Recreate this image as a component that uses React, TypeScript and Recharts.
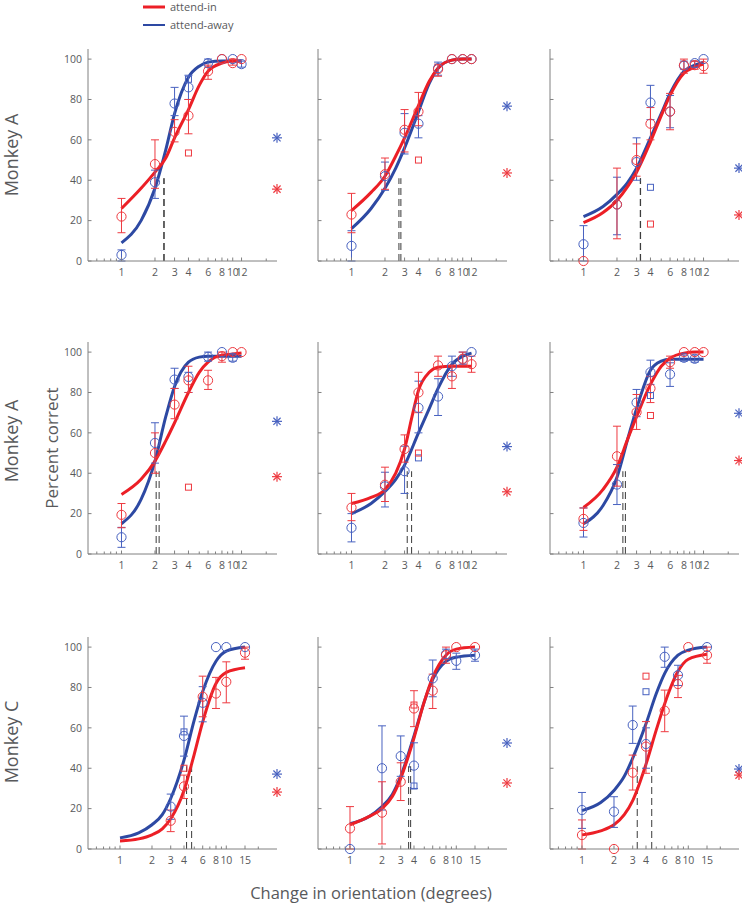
import React from 'react';
import { ComposedChart, XAxis, YAxis, Line, Scatter, ErrorBar, ReferenceLine } from 'recharts';

// ---------- data ----------
type Pt = [number, number, number, number]; // x, y, lower bound, upper bound
type XY = [number, number];

const yTicks = [0, 20, 40, 60, 80, 100];
const xLabelsAB = [1, 2, 3, 4, 6, 8, 10, 12];
const xLabelsC = [1, 2, 3, 4, 6, 8, 10, 15];
const xMinor = [0.6, 0.7, 0.8, 0.9, 5, 7, 9, 20];
const thresholdTop = 41;

// Panel 1 (Monkey A, top-left)
const P1_red: Pt[] = [[1, 22, 14, 31], [2, 48, 36, 60], [3, 64, 59, 70], [4, 72, 63, 80], [6, 94, 90, 97], [8, 100, 100, 100], [10, 98, 97, 100], [12, 100, 100, 100]];
const P1_blue: Pt[] = [[1, 3, 0, 5.5], [2, 39, 31, 45], [3, 78, 72, 86], [4, 86, 80, 92], [6, 98, 96, 100], [8, 100, 100, 100], [10, 100, 100, 100], [12, 97.5, 96, 99]];
const P1_redFit: XY[] = [[1, 26], [1.5, 36], [2, 44], [2.5, 51], [3, 61], [4, 75], [5, 87], [6, 94], [8, 98], [10, 99], [12, 99]];
const P1_blueFit: XY[] = [[1, 9], [1.5, 20], [2, 36], [2.5, 55], [3, 73], [4, 91], [5, 96.5], [6, 98.5], [8, 99], [10, 99], [12, 99]];
const P1_redSq: XY[] = [[4, 53.5]];
const P1_blueSq: XY[] = [[4, 90]];
const P1_stars = [61, 35.6];
const P1_thr = [2.4, 2.42];

// Panel 2
const P2_red: Pt[] = [[1, 23, 14, 33.5], [2, 43, 35.5, 51], [3, 65, 54, 75], [4, 74, 67, 83.5], [6, 95, 91.5, 97.5], [8, 100, 100, 100], [10, 100, 100, 100], [12, 100, 100, 100]];
const P2_blue: Pt[] = [[1, 7.5, 0, 15], [2, 42, 35, 49], [3, 63.5, 53, 73], [4, 68, 61, 72], [6, 95.5, 92, 98.5], [8, 100, 100, 100], [10, 100, 100, 100], [12, 100, 100, 100]];
const P2_redFit: XY[] = [[1, 25], [1.5, 34], [2, 42], [2.5, 52], [3, 61], [4, 77], [5, 89], [6, 95.5], [8, 99.5], [10, 100], [12, 100]];
const P2_blueFit: XY[] = [[1, 16], [1.5, 26], [2, 36], [2.5, 46], [3, 56], [4, 74], [5, 88], [6, 95.5], [8, 99.5], [10, 100], [12, 100]];
const P2_redSq: XY[] = [[4, 50]];
const P2_blueSq: XY[] = [];
const P2_stars = [76.7, 43.6];
const P2_thr = [2.67, 2.78];

// Panel 3
const P3_red: Pt[] = [[1, 0, 0, 0], [2, 28, 11, 46], [3, 50, 42, 58], [4, 68, 60, 76], [6, 74, 65, 83], [8, 97, 93, 100], [10, 97, 95, 99], [12, 96.5, 93, 100]];
const P3_blue: Pt[] = [[1, 8.3, 0, 17.5], [2, 28, 13, 41.5], [3, 49, 40, 61], [4, 78.5, 70, 87], [6, 74, 66, 82], [8, 96.7, 95, 99], [10, 98, 96, 99], [12, 100, 100, 100]];
const P3_redFit: XY[] = [[1, 19], [1.5, 24], [2, 30], [2.5, 37], [3, 44], [4, 59], [5, 72], [6, 82], [8, 93], [10, 96], [12, 97.5]];
const P3_blueFit: XY[] = [[1, 22], [1.5, 27], [2, 33], [2.5, 39], [3, 46], [4, 61], [5, 73], [6, 83], [8, 94], [10, 97], [12, 98.5]];
const P3_redSq: XY[] = [[4, 18.3]];
const P3_blueSq: XY[] = [[4, 36.5]];
const P3_stars = [46, 22.8];
const P3_thr = [3.24, 3.26];

// Panel 4
const P4_red: Pt[] = [[1, 19.4, 13, 25], [2, 50, 40, 60], [3, 74, 67, 82], [4, 86, 80, 93], [6, 86, 81.5, 91], [8, 98, 95, 100], [10, 100, 100, 100], [12, 100, 100, 100]];
const P4_blue: Pt[] = [[1, 8.3, 3.3, 13.2], [2, 55, 45, 65], [3, 86.4, 82, 92], [4, 87.7, 80, 90], [6, 97.7, 95.5, 100], [8, 100, 100, 100], [10, 97.2, 95.5, 99]];
const P4_redFit: XY[] = [[1, 29.5], [1.5, 37], [2, 46], [2.5, 56], [3, 65], [4, 80], [5, 90], [6, 95], [8, 98.5], [10, 99], [12, 99.5]];
const P4_blueFit: XY[] = [[1, 15], [1.5, 27], [2, 46], [2.5, 68], [3, 83], [4, 95], [5, 97.5], [6, 98], [8, 98], [10, 98], [12, 98]];
const P4_redSq: XY[] = [[4, 33.1]];
const P4_blueSq: XY[] = [];
const P4_stars = [65.7, 38.3];
const P4_thr = [2.05, 2.18];

// Panel 5
const P5_red: Pt[] = [[1, 23, 16.5, 30], [2, 34.3, 26, 43], [3, 52, 45.5, 59], [4, 80, 70, 90], [6, 93.4, 88, 98], [8, 88, 82, 93.5], [10, 96.7, 93.5, 100], [12, 94, 90, 98]];
const P5_blue: Pt[] = [[1, 13, 6, 20], [2, 33.5, 23.3, 40.5], [3, 41, 30, 53.4], [4, 72.4, 60, 85.6], [6, 78, 68.6, 86.8], [8, 93, 88, 98], [10, 96.4, 94, 100], [12, 100, 100, 100]];
const P5_redFit: XY[] = [[1, 25], [1.5, 28], [2, 32], [2.5, 40], [3, 52], [3.5, 68], [4, 81], [5, 90], [6, 92.5], [8, 93], [10, 93], [12, 93]];
const P5_blueFit: XY[] = [[1, 20], [1.5, 25], [2, 31], [2.5, 37], [3, 44], [4, 60], [5, 72], [6, 82], [8, 94], [10, 98], [12, 99.5]];
const P5_redSq: XY[] = [[4, 50]];
const P5_blueSq: XY[] = [[4, 47.6]];
const P5_stars = [53.2, 30.8];
const P5_thr = [3.17, 3.47];

// Panel 6
const P6_red: Pt[] = [[1, 17.4, 11.7, 22.8], [2, 48.4, 33.6, 63.3], [3, 70.2, 61.7, 79], [4, 82, 75, 88], [6, 95, 92, 98], [8, 100, 100, 100], [10, 100, 100, 100], [12, 100, 100, 100]];
const P6_blue: Pt[] = [[1, 15.4, 8.4, 22.8], [2, 34.4, 24.5, 44.3], [3, 75, 68, 81.5], [4, 90, 84, 96], [6, 89, 83, 94.7], [8, 97.2, 95.5, 98.5], [10, 96.7, 95, 98.5]];
const P6_redFit: XY[] = [[1, 23], [1.5, 32], [2, 43], [2.5, 57], [3, 68], [4, 84], [5, 93], [6, 97], [8, 99.5], [10, 100], [12, 100]];
const P6_blueFit: XY[] = [[1, 15], [1.5, 24], [2, 38], [2.5, 57], [3, 72], [4, 91], [5, 95.5], [6, 96.5], [8, 96.5], [10, 96.5], [12, 96.5]];
const P6_redSq: XY[] = [[4, 68.6]];
const P6_blueSq: XY[] = [[4, 78.5]];
const P6_stars = [69.7, 46.3];
const P6_thr = [2.26, 2.38];

// Panel 7 (Monkey C)
const P7_red: Pt[] = [[3, 14, 8.6, 19.3], [4, 31, 25, 36.6], [6, 75.4, 65.5, 85.6], [8, 77, 69.6, 85], [10, 82.8, 72.4, 92.7], [15, 97.2, 94, 100]];
const P7_blue: Pt[] = [[3, 21, 14.7, 27.2], [4, 56, 46, 65.8], [6, 72.4, 63, 80.4], [8, 100, 100, 100], [10, 100, 100, 100], [15, 100, 100, 100]];
const P7_redFit: XY[] = [[1, 4], [1.5, 5], [2, 7], [2.5, 10], [3, 15], [4, 29], [5, 47], [6, 63], [8, 82], [10, 87.5], [15, 89.8]];
const P7_blueFit: XY[] = [[1, 5.5], [1.5, 8], [2, 12], [2.5, 17], [3, 25], [4, 44], [5, 64], [6, 78], [8, 93], [10, 98], [15, 100]];
const P7_redSq: XY[] = [[4, 40]];
const P7_blueSq: XY[] = [[4, 58]];
const P7_stars = [37.1, 28.2];
const P7_thr = [4.23, 4.72];

// Panel 8
const P8_red: Pt[] = [[1, 10.2, 0, 21], [2, 18, 2.5, 33.3], [3, 33.3, 24, 42.7], [4, 69.6, 60.6, 78.4], [6, 78.4, 69.6, 86.6], [8, 96, 92, 100], [10, 100, 100, 100], [15, 100, 100, 100]];
const P8_blue: Pt[] = [[1, 0, 0, 0], [2, 40, 19.3, 61], [3, 46, 36, 56], [4, 41.3, 30, 52.6], [6, 84.5, 75.4, 93.6], [8, 96.5, 94, 99], [10, 93.2, 89, 97], [15, 96, 93, 99]];
const P8_redFit: XY[] = [[1, 12], [1.5, 16], [2, 20], [2.5, 26], [3, 35], [4, 55], [5, 73], [6, 85], [8, 96], [10, 99], [15, 100]];
const P8_blueFit: XY[] = [[1, 12.5], [1.5, 16], [2, 21], [2.5, 27], [3, 36], [4, 56], [5, 73], [6, 84], [8, 93], [10, 95], [15, 96]];
const P8_redSq: XY[] = [[4, 71.3]];
const P8_blueSq: XY[] = [[4, 31.2]];
const P8_stars = [52.5, 32.7];
const P8_thr = [3.56, 3.72];

// Panel 9
const P9_red: Pt[] = [[1, 6.9, 0, 14.4], [2, 0, 0, 0], [3, 37.8, 29.2, 46.5], [4, 50.7, 37.5, 63.1], [6, 68.5, 58.1, 78.7], [8, 81.7, 75, 86], [10, 100, 100, 100], [15, 96, 92, 100]];
const P9_blue: Pt[] = [[1, 19.3, 10.2, 28], [2, 18.5, 10.7, 25.9], [3, 61.4, 52.3, 70.8], [4, 52, 40, 60], [6, 95.2, 90, 100], [8, 86.1, 81, 91], [15, 100, 100, 100]];
const P9_redFit: XY[] = [[1, 7], [1.5, 9], [2, 12], [2.5, 17], [3, 24], [4, 42], [5, 59], [6, 72], [8, 88], [10, 94], [15, 96.5]];
const P9_blueFit: XY[] = [[1, 19], [1.5, 23], [2, 29], [2.5, 36], [3, 45], [4, 62], [5, 77], [6, 87], [8, 96], [10, 98.5], [15, 100]];
const P9_redSq: XY[] = [[4, 85.6]];
const P9_blueSq: XY[] = [[4, 77.9]];
const P9_stars = [39.6, 36.6];
const P9_thr = [3.31, 4.53];

// ---------- styles / layout ----------
const RED = '#EC1F26';
const BLUE = '#2D49A3';
const RED_M = '#EE3A40';
const BLUE_M = '#4862C0';
const AXIS = '#808080';
const TXT = '#58595B';
const FONT = '"Open Sans", "Noto Sans", sans-serif';

const COL_X = [88, 318, 550];
const ROW_TOP = [49, 342, 637];
const PLOT_W = 189;
const PLOT_H = 212;
const Y_W = 40;
const M_TOP = 5;
const M_RIGHT = 12;
const X_H = 25;

const panels = [
  { r: 0, c: 0, red: P1_red, blue: P1_blue, redFit: P1_redFit, blueFit: P1_blueFit, redSq: P1_redSq, blueSq: P1_blueSq, stars: P1_stars, thr: P1_thr },
  { r: 0, c: 1, red: P2_red, blue: P2_blue, redFit: P2_redFit, blueFit: P2_blueFit, redSq: P2_redSq, blueSq: P2_blueSq, stars: P2_stars, thr: P2_thr },
  { r: 0, c: 2, red: P3_red, blue: P3_blue, redFit: P3_redFit, blueFit: P3_blueFit, redSq: P3_redSq, blueSq: P3_blueSq, stars: P3_stars, thr: P3_thr },
  { r: 1, c: 0, red: P4_red, blue: P4_blue, redFit: P4_redFit, blueFit: P4_blueFit, redSq: P4_redSq, blueSq: P4_blueSq, stars: P4_stars, thr: P4_thr },
  { r: 1, c: 1, red: P5_red, blue: P5_blue, redFit: P5_redFit, blueFit: P5_blueFit, redSq: P5_redSq, blueSq: P5_blueSq, stars: P5_stars, thr: P5_thr },
  { r: 1, c: 2, red: P6_red, blue: P6_blue, redFit: P6_redFit, blueFit: P6_blueFit, redSq: P6_redSq, blueSq: P6_blueSq, stars: P6_stars, thr: P6_thr },
  { r: 2, c: 0, red: P7_red, blue: P7_blue, redFit: P7_redFit, blueFit: P7_blueFit, redSq: P7_redSq, blueSq: P7_blueSq, stars: P7_stars, thr: P7_thr },
  { r: 2, c: 1, red: P8_red, blue: P8_blue, redFit: P8_redFit, blueFit: P8_blueFit, redSq: P8_redSq, blueSq: P8_blueSq, stars: P8_stars, thr: P8_thr },
  { r: 2, c: 2, red: P9_red, blue: P9_blue, redFit: P9_redFit, blueFit: P9_blueFit, redSq: P9_redSq, blueSq: P9_blueSq, stars: P9_stars, thr: P9_thr },
];

const toPts = (a: Pt[]) => a.map(([x, y, lo, hi]) => ({ x, y, err: lo === hi ? null : [y - lo, hi - y] }));
const toXY = (a: XY[]) => a.map(([x, y]) => ({ x, y }));

const circleShape = (color: string) => (p: any) =>
  p.cx == null ? <g /> : <circle cx={p.cx} cy={p.cy} r={4.6} fill="none" stroke={color} strokeWidth={1} />;
const squareShape = (color: string) => (p: any) =>
  p.cx == null ? <g /> : <rect x={p.cx - 3} y={p.cy - 3} width={6} height={6} fill="none" stroke={color} strokeWidth={1} />;
const starShape = (color: string) => (p: any) => {
  if (p.cx == null) return <g />;
  const r = 5;
  const d = r * 0.72;
  return (
    <g stroke={color} strokeWidth={1.2}>
      <line x1={p.cx - r} y1={p.cy} x2={p.cx + r} y2={p.cy} />
      <line x1={p.cx} y1={p.cy - r} x2={p.cx} y2={p.cy + r} />
      <line x1={p.cx - d} y1={p.cy - d} x2={p.cx + d} y2={p.cy + d} />
      <line x1={p.cx - d} y1={p.cy + d} x2={p.cx + d} y2={p.cy - d} />
    </g>
  );
};

const axisY = M_TOP + PLOT_H;

function Panel({ p }: { p: (typeof panels)[number] }) {
  const isC = p.r === 2;
  const xMax = isC ? 30 : 25;
  const labels = isC ? xLabelsC : xLabelsAB;
  const ticks = [...xMinor, ...labels].sort((a, b) => a - b);
  const renderXTick = (props: any) => {
    const v = props.payload.value;
    const isLab = labels.includes(v);
    return (
      <g>
        <line x1={props.x} y1={axisY} x2={props.x} y2={axisY - (isLab ? 3.5 : 2.5)} stroke={AXIS} strokeWidth={1} />
        {isLab && (
          <text x={props.x} y={axisY + 15} textAnchor="middle" fontSize={10.5} letterSpacing={-0.2} fill={TXT} fontFamily={FONT}>
            {v}
          </text>
        )}
      </g>
    );
  };
  const renderYTick = (props: any) => (
    <g>
      <line x1={Y_W} y1={props.y} x2={Y_W + 3.5} y2={props.y} stroke={AXIS} strokeWidth={1} />
      {p.c === 0 && (
        <text x={Y_W - 6} y={props.y} dy="0.36em" textAnchor="end" fontSize={10.5} fill={TXT} fontFamily={FONT}>
          {props.payload.value}
        </text>
      )}
    </g>
  );
  const starX = xMax;
  return (
    <div style={{ position: 'absolute', left: COL_X[p.c] - Y_W, top: ROW_TOP[p.r] - M_TOP }}>
      <ComposedChart
        width={Y_W + PLOT_W + M_RIGHT}
        height={M_TOP + PLOT_H + X_H}
        margin={{ top: M_TOP, right: M_RIGHT, bottom: 0, left: 0 }}
      >
        <XAxis
          type="number"
          dataKey="x"
          scale="log"
          domain={[0.5, xMax]}
          ticks={ticks}
          interval={0}
          tick={renderXTick}
          tickLine={false}
          tickSize={0}
          axisLine={{ stroke: AXIS, strokeWidth: 1 }}
          height={X_H}
        />
        <YAxis
          type="number"
          dataKey="y"
          domain={[0, 105]}
          ticks={yTicks}
          interval={0}
          tick={renderYTick}
          tickLine={false}
          tickSize={0}
          axisLine={{ stroke: AXIS, strokeWidth: 1 }}
          width={Y_W}
        />
        {p.thr.map((t, i) => (
          <ReferenceLine
            key={'t' + i}
            segment={[{ x: t, y: 0 }, { x: t, y: thresholdTop }]}
            stroke="#3A3A3A"
            strokeWidth={1}
            strokeDasharray="7 4"
            ifOverflow="visible"
          />
        ))}
        <Line data={toXY(p.blueFit)} dataKey="y" type="monotone" stroke={BLUE} strokeWidth={3} dot={false} activeDot={false} isAnimationActive={false} />
        <Line data={toXY(p.redFit)} dataKey="y" type="monotone" stroke={RED} strokeWidth={3} dot={false} activeDot={false} isAnimationActive={false} />
        <Scatter data={toPts(p.blue)} shape={circleShape(BLUE_M)} isAnimationActive={false}>
          <ErrorBar dataKey="err" direction="y" width={4} stroke={BLUE_M} strokeWidth={1} />
        </Scatter>
        <Scatter data={toPts(p.red)} shape={circleShape(RED_M)} isAnimationActive={false}>
          <ErrorBar dataKey="err" direction="y" width={4} stroke={RED_M} strokeWidth={1} />
        </Scatter>
        <Scatter data={toXY(p.blueSq)} shape={squareShape(BLUE_M)} isAnimationActive={false} />
        <Scatter data={toXY(p.redSq)} shape={squareShape(RED_M)} isAnimationActive={false} />
        <Scatter data={[{ x: starX, y: p.stars[0] }]} shape={starShape(BLUE_M)} isAnimationActive={false} />
        <Scatter data={[{ x: starX, y: p.stars[1] }]} shape={starShape(RED_M)} isAnimationActive={false} />
      </ComposedChart>
    </div>
  );
}

export default function App() {
  return (
    <div
      style={{
        position: 'absolute',
        left: 0,
        top: 0,
        width: 742,
        height: 908,
        overflow: 'hidden',
        background: '#fff',
        fontFamily: FONT,
      }}
    >
      <svg width={742} height={908} style={{ position: 'absolute', left: 0, top: 0 }}>
        <line x1={143} y1={7} x2={165} y2={7} stroke={RED} strokeWidth={3} />
        <text x={170} y={7} dy="0.35em" fontSize={11} fill={TXT} fontFamily={FONT}>attend-in</text>
        <line x1={143} y1={25} x2={165} y2={25} stroke={BLUE} strokeWidth={2} />
        <text x={170} y={25} dy="0.35em" fontSize={11} fill={TXT} fontFamily={FONT}>attend-away</text>
        <text transform="translate(12,155) rotate(-90)" textAnchor="middle" dy="0.35em" fontSize={18} fill={TXT} fontFamily={FONT}>Monkey A</text>
        <text transform="translate(12,441) rotate(-90)" textAnchor="middle" dy="0.35em" fontSize={18} fill={TXT} fontFamily={FONT}>Monkey A</text>
        <text transform="translate(52,448) rotate(-90)" textAnchor="middle" dy="0.35em" fontSize={17} fill={TXT} fontFamily={FONT}>Percent correct</text>
        <text transform="translate(12,742) rotate(-90)" textAnchor="middle" dy="0.35em" fontSize={18} fill={TXT} fontFamily={FONT}>Monkey C</text>
        <text x={371} y={893} textAnchor="middle" dy="0.35em" fontSize={16.5} fill={TXT} fontFamily={FONT}>Change in orientation (degrees)</text>
      </svg>
      {panels.map((p, i) => (
        <Panel key={i} p={p} />
      ))}
    </div>
  );
}
